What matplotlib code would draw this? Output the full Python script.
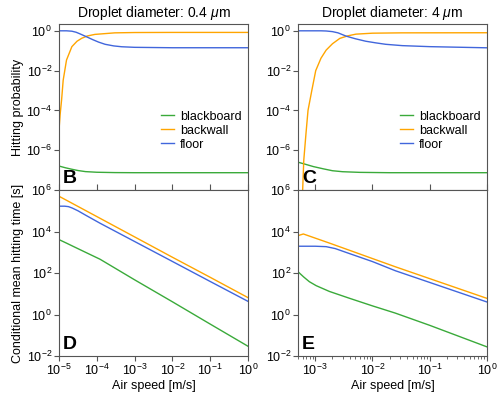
import matplotlib
matplotlib.use("Agg")
from matplotlib import pyplot as plt
from matplotlib import ticker
import numpy as np

plt.rcParams['font.family'] = ['Liberation Sans', 'DejaVu Sans']
plt.rcParams['mathtext.fontset'] = 'custom'
plt.rcParams['mathtext.rm'] = 'Liberation Sans'
plt.rcParams['mathtext.it'] = 'Liberation Sans:italic'
plt.rcParams['mathtext.bf'] = 'Liberation Sans:bold'

# colours
c_black = '#3aaa3a'
c_back = '#ffa500'
c_floor = '#4166dc'
spine_col = '#555555'

# ---- 0.4 um droplets: hitting probability (panel B)
b_black_x = [1e-5, 1.5e-5, 2.2e-5, 3.2e-5, 5e-5, 1e-4, 3e-4, 1e-3, 1]
b_black_y = [1.6e-7, 1.3e-7, 1.1e-7, 9.5e-8, 8.4e-8, 7.8e-8, 7.5e-8, 7.4e-8, 7.4e-8]
b_back_x = [1.0e-5, 1.07e-5, 1.17e-5, 1.29e-5, 1.58e-5, 2.19e-5, 3.0e-5, 3.98e-5,
            5.6e-5, 8.9e-5, 3.0e-4, 1e-3, 1e-2, 1]
b_back_y = [1e-5, 6e-5, 3.3e-4, 3.3e-3, 3.4e-2, 0.16, 0.3, 0.42, 0.55, 0.66, 0.79,
            0.82, 0.83, 0.83]
b_floor_x = [1e-5, 1.58e-5, 2.19e-5, 2.82e-5, 3.55e-5, 5.37e-5, 7.94e-5, 1.12e-4,
             1.66e-4, 2.82e-4, 4.57e-4, 1e-3, 1e-2, 1]
b_floor_y = [1.0, 1.0, 0.955, 0.85, 0.71, 0.5, 0.355, 0.27, 0.21, 0.174, 0.158, 0.148,
             0.141, 0.141]

# ---- 4 um droplets: hitting probability (panel C)
c_black_x = [5e-4, 7e-4, 9.3e-4, 1.4e-3, 2e-3, 3e-3, 6e-3, 2e-2, 1]
c_black_y = [2.5e-7, 1.9e-7, 1.5e-7, 1.15e-7, 9.3e-8, 8.3e-8, 7.7e-8, 7.4e-8, 7.4e-8]
c_back_x = [5.85e-4, 6.03e-4, 6.31e-4, 6.92e-4, 7.48e-4, 8.71e-4, 1.02e-3, 1.26e-3,
            1.55e-3, 2.0e-3, 2.69e-3, 3.72e-3, 5.13e-3, 1e-2, 3.16e-2, 1]
c_back_y = [1e-9, 1e-8, 3.2e-7, 7.9e-6, 1e-4, 1e-3, 1e-2, 4.2e-2, 0.107, 0.224, 0.417,
            0.56, 0.68, 0.76, 0.79, 0.8]
c_floor_x = [5e-4, 1.26e-3, 1.55e-3, 2.0e-3, 2.5e-3, 3.47e-3, 5.0e-3, 7.6e-3, 1.12e-2,
             1.7e-2, 3.3e-2, 0.1, 1]
c_floor_y = [1.0, 1.0, 0.98, 0.91, 0.79, 0.54, 0.4, 0.30, 0.25, 0.21, 0.18, 0.16, 0.14]

# ---- 0.4 um droplets: conditional mean hitting time (panel D)
d_black_x = [1e-5, 1.58e-5, 2.4e-5, 5e-5, 1.22e-4, 1e-3, 1e-2, 1e-1, 1]
d_black_y = [4.07e3, 2.75e3, 1.9e3, 1.0e3, 4.6e2, 4.7e1, 4.1, 0.345, 0.0295]
d_back_x = [1e-5, 1e-4, 1e-3, 1e-2, 1e-1, 1]
d_back_y = [5.0e5, 5.25e4, 5.5e3, 5.75e2, 6.2e1, 6.5]
d_floor_x = [1e-5, 1.41e-5, 1.78e-5, 2.24e-5, 3.16e-5, 5e-5, 1.22e-4, 1e-3, 1e-2,
             1e-1, 1]
d_floor_y = [1.66e5, 1.66e5, 1.58e5, 1.35e5, 1.0e5, 6.2e4, 2.5e4, 3.3e3, 3.6e2,
             3.9e1, 4.3]

# ---- 4 um droplets: conditional mean hitting time (panel E)
e_black_x = [5e-4, 6.3e-4, 7.9e-4, 1.04e-3, 1.77e-3, 4e-3, 1e-2, 2.5e-2, 1e-1, 1]
e_black_y = [115, 64, 38, 24.5, 12.9, 6.0, 2.6, 1.17, 0.30, 0.0275]
e_back_x = [5e-4, 6.2e-4, 1.78e-3, 2.5e-2, 0.9, 1]
e_back_y = [6.3e3, 7.6e3, 2.75e3, 2.0e2, 6.6, 6.0]
e_floor_x = [5e-4, 1e-3, 1.55e-3, 2.24e-3, 3.4e-3, 1e-2, 2.5e-2, 1e-1, 1]
e_floor_y = [1.95e3, 1.95e3, 1.86e3, 1.5e3, 1.0e3, 3.55e2, 1.29e2, 3.5e1, 4.0]

titles = ["Droplet diameter: 0.4 $\\mu$m", "Droplet diameter: 4 $\\mu$m"]
labels = ["blackboard", "backwall", "floor"]
xlims = [(1e-5, 1), (5e-4, 1)]

fig = plt.figure(figsize=(4.97, 3.93), dpi=100)
W, H = 497, 393
axs = {}
for i, left in enumerate([59, 298]):
    for j, top in enumerate([24, 190]):
        ax = fig.add_axes([left / W, 1 - (top + 166) / H, 189 / W, 166 / H])
        axs[(j, i)] = ax

top_data = [
    [(b_black_x, b_black_y), (b_back_x, b_back_y), (b_floor_x, b_floor_y)],
    [(c_black_x, c_black_y), (c_back_x, c_back_y), (c_floor_x, c_floor_y)],
]
bot_data = [
    [(d_black_x, d_black_y), (d_back_x, d_back_y), (d_floor_x, d_floor_y)],
    [(e_black_x, e_black_y), (e_back_x, e_back_y), (e_floor_x, e_floor_y)],
]
colors = [c_black, c_back, c_floor]
letters = [["B", "C"], ["D", "E"]]

for i in range(2):
    for j in range(2):
        ax = axs[(j, i)]
        data = top_data[i] if j == 0 else bot_data[i]
        for (x, y), col, lab in zip(data, colors, labels):
            ax.plot(x, y, color=col, lw=1.0, label=lab)
        ax.set_xscale('log')
        ax.set_yscale('log')
        ax.set_xlim(*xlims[i])
        for s in ax.spines.values():
            s.set_color(spine_col)
        ax.tick_params(colors=spine_col, labelcolor='black', labelsize=9,
                       length=3.5, width=0.8, pad=1.5)
        ax.tick_params(which='minor', colors=spine_col, length=2, width=0.6)
        ax.xaxis.set_major_locator(ticker.LogLocator(base=10, numticks=10))
        if i == 0:
            ax.xaxis.set_minor_locator(ticker.NullLocator())
        else:
            ax.xaxis.set_minor_locator(ticker.LogLocator(base=10, subs=np.arange(2, 10),
                                                         numticks=20))
        if j == 0:
            ax.set_ylim(1e-8, 2.2)
            ax.set_yticks([1e-6, 1e-4, 1e-2, 1e0])
            ax.yaxis.set_minor_locator(ticker.NullLocator())
            ax.tick_params(axis='x', direction='in', labelbottom=False, length=4)
            ax.xaxis.set_minor_locator(ticker.NullLocator())
            ax.set_title(titles[i], fontsize=10, pad=5)
            ax.legend(loc='lower right', bbox_to_anchor=(1.0, 0.2), frameon=False,
                      fontsize=9, handlelength=1.0, handletextpad=0.5,
                      labelspacing=0.15, borderpad=0)
        else:
            ax.set_ylim(1e-2, 1e6)
            ax.set_yticks([1e-2, 1e0, 1e2, 1e4, 1e6])
            ax.yaxis.set_minor_locator(ticker.NullLocator())
            ax.set_xlabel("Air speed [m/s]", fontsize=9, labelpad=1)
        ax.text(0.02, 0.02, letters[j][i], transform=ax.transAxes, fontsize=14,
                fontweight='bold', ha='left', va='bottom')

axs[(0, 0)].set_ylabel("Hitting probability", fontsize=9, labelpad=2)
axs[(1, 0)].set_ylabel("Conditional mean hitting time [s]", fontsize=9, labelpad=2)

fig.savefig("out.png", dpi=100)
